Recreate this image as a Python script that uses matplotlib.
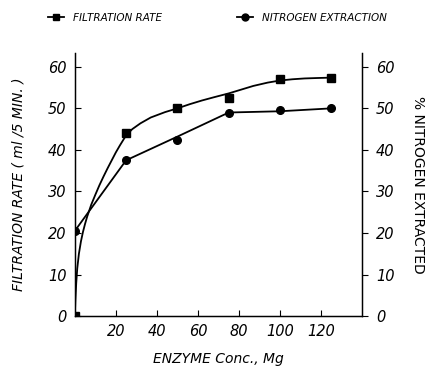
import numpy as np
import matplotlib
matplotlib.use('Agg')
import matplotlib.pyplot as plt
from matplotlib.lines import Line2D

# measured points
enzyme = [0, 25, 50, 75, 100, 125]
filtration = [0, 44, 50, 52.5, 57, 57.3]
nitrogen = [20.5, 37.5, 42.5, 49, 49.5, 50]

# hand drawn curves
filt_curve_x = [0, 0.3, 0.7, 1.2, 2, 3, 4, 5, 6, 8, 10, 12, 14, 16, 18, 20, 22, 25, 28, 32, 37, 44, 50, 56, 62, 68, 75, 81, 87, 94, 100, 106, 112, 118, 125]
filt_curve_y = [0, 4, 8, 11.5, 15, 18, 20.3, 22.2, 23.9, 26.8, 29.2, 31.5, 33.6, 35.6, 37.5, 39.4, 41.1, 43.5, 45.0, 46.4, 47.8, 49.1, 50, 51, 51.9, 52.7, 53.6, 54.5, 55.4, 56.2, 56.7, 57, 57.2, 57.3, 57.4]
nit_curve_x = [0, 25, 50, 75, 100, 125]
nit_curve_y = [20.5, 37.5, 43.2, 49, 49.3, 50]

ticks_x = [20, 40, 60, 80, 100, 120]
ticks_y = [0, 10, 20, 30, 40, 50, 60]

fig = plt.figure(figsize=(4.25, 3.71), dpi=100)
ax = fig.add_axes([0.176, 0.148, 0.676, 0.71])

ax.plot(filt_curve_x, filt_curve_y, color='black', lw=1.3)
ax.plot(nit_curve_x, nit_curve_y, color='black', lw=1.3)
ax.plot(enzyme, filtration, 's', color='black', ms=5.5)
ax.plot(enzyme, nitrogen, 'o', color='black', ms=5.5)

ax.set_xlim(0, 140)
ax.set_ylim(0, 63.4)
ax.set_xticks(ticks_x)
ax.set_yticks(ticks_y)
ax.spines['top'].set_visible(False)
for s in ['left', 'bottom', 'right']:
    ax.spines[s].set_linewidth(1.0)
ax.tick_params(axis='both', direction='in', length=4, width=0.8, labelsize=10.5, pad=6)
ax.tick_params(axis='x', pad=6)
for lab in ax.get_xticklabels() + ax.get_yticklabels():
    lab.set_style('italic')

ax2 = ax.twinx()
ax2.set_ylim(0, 63.4)
ax2.set_yticks(ticks_y)
ax2.spines['top'].set_visible(False)
ax2.tick_params(axis='y', direction='out', length=4, width=0.8, labelsize=10.5, pad=6)
for lab in ax2.get_yticklabels():
    lab.set_style('italic')

ax.set_xlabel('ENZYME Conc., Mg', fontsize=10, style='italic', labelpad=9)
ax.set_ylabel('FILTRATION RATE ( ml /5 MIN. )', fontsize=10, style='italic', labelpad=16)
ax2.set_ylabel('% NITROGEN EXTRACTED', fontsize=10, rotation=-90, labelpad=22)

handles = [Line2D([], [], color='black', marker='s', ms=5, lw=1.3),
           Line2D([], [], color='black', marker='o', ms=5, lw=1.3)]
fig.legend(handles, ['FILTRATION RATE', 'NITROGEN EXTRACTION'], loc='upper left',
           bbox_to_anchor=(0.09, 0.99), ncol=2, frameon=False, handlelength=1.6,
           columnspacing=7.2, prop={'size': 7.5, 'style': 'italic'})

fig.savefig('out.png', dpi=100)
